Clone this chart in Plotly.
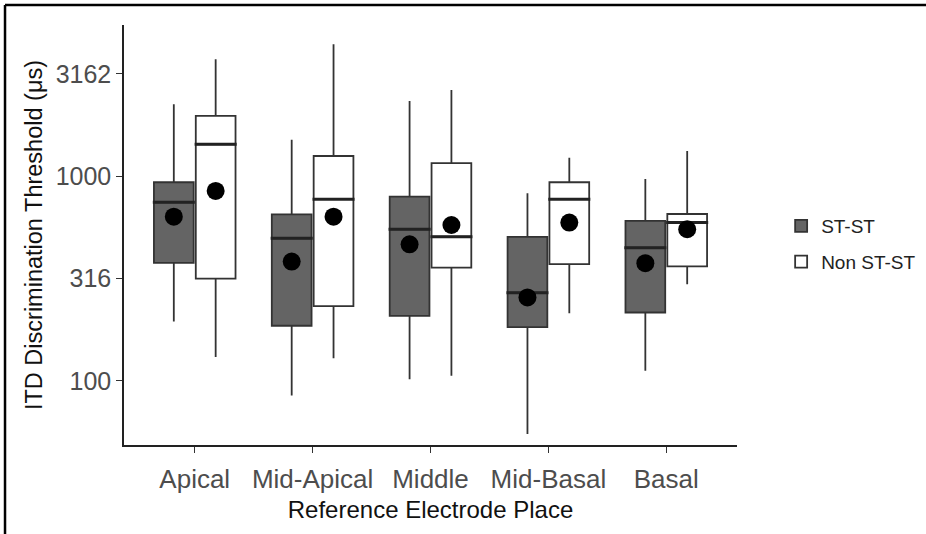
import plotly.graph_objects as go

categories = ["Apical", "Mid-Apical", "Middle", "Mid-Basal", "Basal"]
groups = ["ST-ST", "Non ST-ST"]

# box statistics (µs)
st_lower = [195, 85, 102, 55, 112]
st_q1 = [377, 186, 208, 183, 216]
st_median = [746, 498, 551, 270, 448]
st_q3 = [935, 652, 796, 506, 605]
st_upper = [2249, 1506, 2333, 826, 970]
st_mean = [635, 383, 465, 256, 376]

non_lower = [131, 129, 106, 214, 297]
non_q1 = [316, 232, 358, 372, 363]
non_median = [1432, 773, 507, 773, 594]
non_q3 = [1972, 1256, 1159, 935, 654]
non_upper = [3733, 4416, 2642, 1233, 1330]
non_mean = [848, 635, 578, 594, 551]

tick_vals = [100, 316, 1000, 3162]
tick_text = ["100", "316", "1000", "3162"]

FONT = "Liberation Sans, Arial, sans-serif"

fig = go.Figure()

specs = [
    (groups[0], st_lower, st_q1, st_median, st_q3, st_upper, st_mean, "#646464"),
    (groups[1], non_lower, non_q1, non_median, non_q3, non_upper, non_mean, "#ffffff"),
]

for name, lo, q1, med, q3, up, mean, fill in specs:
    fig.add_trace(go.Box(
        name=name, x=categories, q1=q1, median=med, q3=q3,
        lowerfence=lo, upperfence=up,
        fillcolor=fill, line=dict(color="#333333", width=1.8),
        whiskerwidth=0, offsetgroup=name, legendgroup=name, boxpoints=False,
        hoverinfo="skip",
    ))

# thicker median bars (as in ggplot)
for name, lo, q1, med, q3, up, mean, fill in specs:
    fig.add_trace(go.Scatter(
        name=name, x=categories, y=med, mode="markers",
        marker=dict(symbol="line-ew", size=30, color="#222222",
                    line=dict(color="#222222", width=3)),
        offsetgroup=name, legendgroup=name, showlegend=False, hoverinfo="skip",
    ))

for name, lo, q1, med, q3, up, mean, fill in specs:
    fig.add_trace(go.Scatter(
        name=name, x=categories, y=mean, mode="markers",
        marker=dict(color="black", size=18),
        offsetgroup=name, legendgroup=name, showlegend=False, hoverinfo="skip",
    ))

fig.update_layout(
    width=926, height=534,
    margin=dict(l=124, r=189, t=25, b=89, autoexpand=False),
    paper_bgcolor="white", plot_bgcolor="white",
    boxmode="group", boxgap=0.29, boxgroupgap=0.05,
    scattermode="group", scattergap=0.29,
    font=dict(family=FONT, color="#4d4d4d"),
    showlegend=True,
    legend=dict(x=1.072, y=0.4786, xanchor="left", yanchor="middle",
                font=dict(size=19, color="#222222", family=FONT),
                bgcolor="rgba(0,0,0,0)", tracegroupgap=8,
                traceorder="grouped"),
    xaxis=dict(
        type="category", range=[-0.6, 4.6], automargin=False,
        showline=True, linecolor="#222222", linewidth=1.5,
        ticks="outside", ticklen=6, tickcolor="#333333", tickwidth=1.2,
        ticklabelstandoff=4,
        showgrid=False, zeroline=False,
        tickfont=dict(size=26, color="#4d4d4d", family=FONT),
        title=dict(text="Reference Electrode Place", standoff=8,
                   font=dict(size=24, color="#111111", family=FONT)),
    ),
    yaxis=dict(
        type="log", range=[1.687, 3.739], automargin=False,
        tickvals=tick_vals, ticktext=tick_text,
        showline=True, linecolor="#222222", linewidth=1.5,
        ticks="outside", ticklen=6, tickcolor="#333333", tickwidth=1.2,
        showgrid=False, zeroline=False,
        tickfont=dict(size=25, color="#4d4d4d", family=FONT),
        title=dict(text="ITD Discrimination Threshold (μs)", standoff=6,
                   font=dict(size=23.5, color="#111111", family=FONT)),
    ),
    shapes=[
        dict(type="line", xref="paper", yref="paper", x0=-0.1941, x1=1.31,
             y0=1.0476, y1=1.0476, line=dict(color="black", width=2.5)),
        dict(type="line", xref="paper", yref="paper", x0=-0.1941, x1=-0.1941,
             y0=1.0476, y1=-0.22, line=dict(color="black", width=2.5)),
    ],
)

fig.write_html("out.html", config={"displayModeBar": False},
               post_script="document.body.style.margin='0';document.body.style.overflow='hidden';")
